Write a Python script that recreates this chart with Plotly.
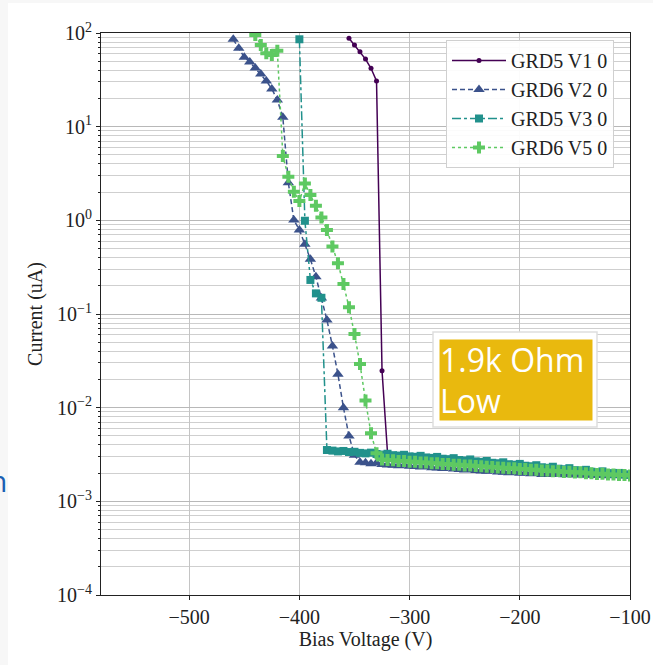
import plotly.graph_objects as go

# ---------------- data ----------------
series_names = ["GRD5 V1 0", "GRD6 V2 0", "GRD5 V3 0", "GRD6 V5 0"]

v_grd5_v1 = [-355, -350, -345, -340, -335, -330, -325, -320, -315, -310, -305, -300,
             -295, -290, -285, -280, -275, -270, -265, -260, -255, -250, -245, -240,
             -235, -230, -225, -220, -215, -210, -205, -200, -195, -190, -185, -180,
             -175, -170, -165, -160, -155, -150, -145, -140, -135, -130, -125, -120,
             -115, -110, -105, -100]
i_grd5_v1 = [87.7, 74.5, 63.0, 52.7, 42.0, 30.8, 0.0248, 0.00326, 0.00285, 0.00281, 0.00280, 0.00275,
             0.00274, 0.00270, 0.00269, 0.00265, 0.00264, 0.00260, 0.00259, 0.00255, 0.00254, 0.00250, 0.00249, 0.00245,
             0.00245, 0.00241, 0.00240, 0.00236, 0.00236, 0.00232, 0.00231, 0.00228, 0.00227, 0.00224, 0.00223, 0.00220,
             0.00219, 0.00216, 0.00215, 0.00212, 0.00211, 0.00208, 0.00207, 0.00204, 0.00203, 0.00200, 0.00199, 0.00196,
             0.00195, 0.00192, 0.00191, 0.00188]

v_grd6_v2 = [-460, -455, -450, -445, -440, -435, -430, -425, -420, -415, -410, -405,
             -400, -395, -390, -385, -380, -375, -370, -365, -360, -355, -350, -345,
             -340, -335, -330, -325, -320, -315, -310, -305, -300, -295, -290, -285,
             -280, -275, -270, -265, -260, -255, -250, -245, -240, -235, -230, -225,
             -220, -215, -210, -205, -200, -195, -190, -185, -180, -175, -170, -165,
             -160, -155, -150, -145, -140, -135, -130, -125, -120, -115, -110, -105, -100]
i_grd6_v2 = [85.7, 68.7, 55.1, 49.0, 42.3, 36.5, 30.7, 25.3, 19.3, 12.6, 2.52, 1.01,
             0.79, 0.555, 0.384, 0.25, 0.148, 0.0863, 0.0455, 0.0227, 0.0100, 0.00499, 0.0031, 0.00262,
             0.00258, 0.00252, 0.00256, 0.00248, 0.00245, 0.00243, 0.00240, 0.00243, 0.00237, 0.00235, 0.00232, 0.00235,
             0.00229, 0.00227, 0.00224, 0.00227, 0.00221, 0.00219, 0.00216, 0.00219, 0.00213, 0.00211, 0.00209, 0.00212,
             0.00206, 0.00204, 0.00202, 0.00205, 0.00199, 0.00201, 0.00197, 0.00199, 0.00194, 0.00196, 0.00193, 0.00195,
             0.00192, 0.00194, 0.00191, 0.00192, 0.00190, 0.00191, 0.00189, 0.00190, 0.00188, 0.00189, 0.00187, 0.00188, 0.00186]

v_grd5_v3 = [-400, -395, -390, -385, -380, -375, -370, -365, -360, -355, -350, -345,
             -340, -335, -330, -325, -320, -315, -310, -305, -300, -295, -290, -285,
             -280, -275, -270, -265, -260, -255, -250, -245, -240, -235, -230, -225,
             -220, -215, -210, -205, -200, -195, -190, -185, -180, -175, -170, -165,
             -160, -155, -150, -145, -140, -135, -130, -125, -120, -115, -110, -105, -100]
i_grd5_v3 = [85.7, 0.99, 0.231, 0.166, 0.149, 0.00353, 0.00348, 0.00341, 0.00345, 0.00336, 0.00338, 0.00329,
             0.00325, 0.00331, 0.00320, 0.00316, 0.00322, 0.00311, 0.00308, 0.00314, 0.00302, 0.00299, 0.00306, 0.00294,
             0.00291, 0.00298, 0.00285, 0.00282, 0.00289, 0.00276, 0.00273, 0.00280, 0.00267, 0.00264, 0.00270, 0.00258,
             0.00255, 0.00261, 0.00249, 0.00246, 0.00251, 0.00240, 0.00237, 0.00243, 0.00231, 0.00228, 0.00234, 0.00223,
             0.00220, 0.00226, 0.00215, 0.00212, 0.00217, 0.00207, 0.00204, 0.00209, 0.00200, 0.00197, 0.00201, 0.00194, 0.00192]

v_grd6_v5 = [-440, -435, -430, -425, -420, -415, -410, -405, -400, -395, -390, -385,
             -380, -375, -370, -365, -360, -355, -350, -345, -340, -335, -330, -325,
             -320, -315, -310, -305, -300, -295, -290, -285, -280, -275, -270, -265,
             -260, -255, -250, -245, -240, -235, -230, -225, -220, -215, -210, -205,
             -200, -195, -190, -185, -180, -175, -170, -165, -160, -155, -150, -145,
             -140, -135, -130, -125, -120, -115, -110, -105, -100]
i_grd6_v5 = [95.0, 74.5, 60.7, 58.2, 64.7, 4.86, 2.92, 2.02, 1.61, 2.48, 1.86, 1.43,
             1.07, 0.79, 0.524, 0.348, 0.209, 0.118, 0.0612, 0.0292, 0.0119, 0.00532, 0.00326, 0.00280,
             0.00276, 0.00274, 0.00270, 0.00269, 0.00265, 0.00264, 0.00260, 0.00259, 0.00255, 0.00255, 0.00251, 0.00250,
             0.00246, 0.00246, 0.00242, 0.00241, 0.00238, 0.00237, 0.00234, 0.00233, 0.00230, 0.00229, 0.00226, 0.00226,
             0.00222, 0.00222, 0.00218, 0.00218, 0.00214, 0.00214, 0.00210, 0.00211, 0.00206, 0.00207, 0.00203, 0.00204,
             0.00199, 0.00200, 0.00196, 0.00197, 0.00193, 0.00194, 0.00191, 0.00191, 0.00189]

x_tickvals = [-500, -400, -300, -200, -100]
x_ticktext = ["\u2212500", "\u2212400", "\u2212300", "\u2212200", "\u2212100"]
y_tickvals = [1e-4, 1e-3, 1e-2, 1e-1, 1e0, 1e1, 1e2]
y_ticktext = ["10<sup>\u22124</sup>", "10<sup>\u22123</sup>", "10<sup>\u22122</sup>",
              "10<sup>\u22121</sup>", "10<sup>0</sup>", "10<sup>1</sup>", "10<sup>2</sup>"]

note_text = "1.9k Ohm<br>Low"

# ---------------- figure ----------------
W, H = 653, 665
L, R, T, B = 101, 23, 33, 70
pw, ph = W - L - R, H - T - B


def px_x(p):
    return (p - L) / pw


def px_y(p):
    return (H - B - p) / ph


SERIF = "Liberation Serif"
TXT = "#222222"
colors = ["#440154", "#3b528b", "#21918c", "#5ec962"]
dashes = ["solid", "5px,3px", "dashdot", "dot"]
symbols = ["circle", "triangle-up", "square", "cross"]
msizes = [5, 10, 8, 10]

xs = [v_grd5_v1, v_grd6_v2, v_grd5_v3, v_grd6_v5]
ys = [i_grd5_v1, i_grd6_v2, i_grd5_v3, i_grd6_v5]

fig = go.Figure()
for k in range(4):
    fig.add_trace(go.Scatter(
        x=xs[k], y=ys[k], name=series_names[k], mode="lines+markers",
        line=dict(color=colors[k], width=1.5, dash=dashes[k]),
        marker=dict(symbol=symbols[k], size=msizes[k], color=colors[k], line=dict(width=0)),
    ))

minor_vals = [m * 10.0 ** e for e in range(-4, 2) for m in range(2, 10)]

fig.update_layout(
    width=W, height=H,
    margin=dict(l=L, r=R, t=T, b=B),
    paper_bgcolor="#f7f7f7",
    plot_bgcolor="white",
    font=dict(family=SERIF, size=19, color=TXT),
    showlegend=True,
    legend=dict(
        x=px_x(446), y=px_y(40), xanchor="left", yanchor="top",
        bgcolor="rgba(255,255,255,0.92)", bordercolor="#d0d0d0", borderwidth=1,
        font=dict(family=SERIF, size=20, color=TXT),
        itemwidth=54, tracegroupgap=0,
    ),
    xaxis=dict(
        range=[-580, -100], tickmode="array", tickvals=x_tickvals, ticktext=x_ticktext,
        automargin=False,
        showgrid=True, gridcolor="#c4c4c4", gridwidth=1, zeroline=False,
        showline=True, linecolor=TXT, linewidth=1.2, mirror=True,
        ticks="outside", ticklen=4, tickcolor=TXT,
        tickfont=dict(family=SERIF, size=20, color=TXT),
        title=dict(text="Bias Voltage (V)", font=dict(family=SERIF, size=20, color=TXT), standoff=4),
    ),
    yaxis=dict(
        type="log", range=[-4, 2], tickmode="array", tickvals=y_tickvals, ticktext=y_ticktext,
        automargin=False,
        showgrid=True, gridcolor="#b8b8b8", gridwidth=1, zeroline=False,
        showline=True, linecolor=TXT, linewidth=1.2, mirror=True,
        ticks="outside", ticklen=4, tickcolor=TXT,
        tickfont=dict(family=SERIF, size=20, color=TXT),
        title=dict(text="Current (uA)", font=dict(family=SERIF, size=20, color=TXT), standoff=8),
        minor=dict(tickmode="array", tickvals=minor_vals, ticks="outside", ticklen=2,
                   tickcolor=TXT, showgrid=True, gridcolor="#cfcfcf", gridwidth=1),
    ),
    shapes=[
        dict(type="rect", xref="paper", yref="paper", layer="below",
             x0=px_x(8), x1=px_x(W + 5), y0=px_y(H + 5), y1=px_y(3),
             fillcolor="white", line=dict(width=0)),
        dict(type="rect", xref="paper", yref="paper", layer="above",
             x0=px_x(433), x1=px_x(597), y0=px_y(427), y1=px_y(332),
             fillcolor="white", line=dict(color="#dedede", width=1.5)),
    ],
    annotations=[
        dict(text=note_text, xref="paper", yref="paper", x=px_x(439), y=px_y(339),
             xanchor="left", yanchor="top", align="left", showarrow=False,
             width=152, height=80, borderpad=0, bgcolor="#e9b90e",
             font=dict(family="Open Sans", size=32, color="white")),
        dict(text="n", xref="paper", yref="paper", x=px_x(9), y=px_y(480),
             xanchor="right", yanchor="middle", showarrow=False,
             font=dict(family="Open Sans", size=30, color="#1b5fb3")),
    ],
)

fig.write_html(
    "out.html",
    config={"displayModeBar": False},
    post_script="document.body.style.margin='0px';document.body.style.overflow='hidden';",
)
